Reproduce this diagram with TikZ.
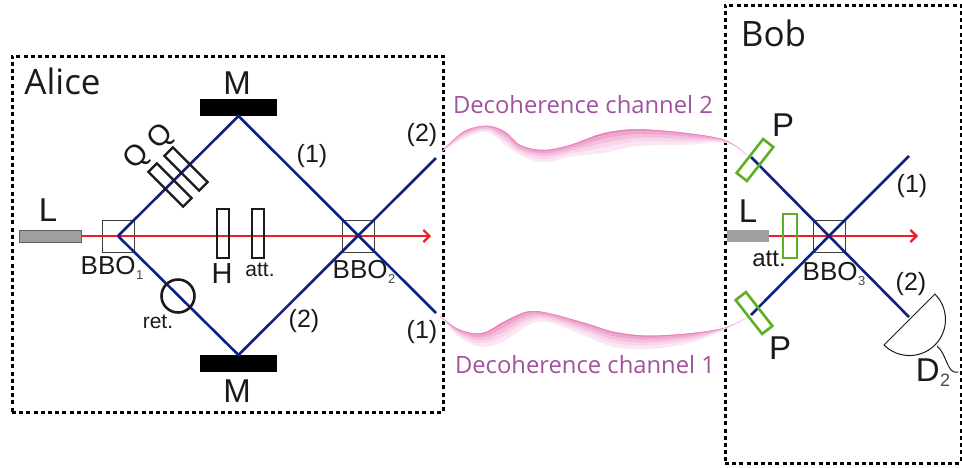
\documentclass[tikz,border=0pt]{standalone}
\usepackage{fontspec}
\setmainfont{Liberation Sans}
\newfontfamily\myr{Open Sans}
\usetikzlibrary{arrows.meta}
\definecolor{navy}{HTML}{10207F}
\definecolor{laser}{HTML}{EE1C25}
\definecolor{pgreen}{HTML}{5DB024}
\definecolor{chtext}{HTML}{A0529F}
\definecolor{ink}{HTML}{1A1A1A}
\definecolor{cha}{HTML}{FBE6F3}
\definecolor{chb}{HTML}{F8D5EA}
\definecolor{chc}{HTML}{F3BFDD}
\definecolor{chd}{HTML}{EEA6CF}
\definecolor{che}{HTML}{E67FB9}
\newcommand{\fs}[1]{\fontsize{#1}{#1}\selectfont}
\newcommand{\sbs}[1]{\kern.5pt\raisebox{-5pt}{\fs{13}\textcolor{ink!80}{#1}}}
% list of x/top/bottom, fraction, colour
\newcommand{\chband}[3]{%
  \gdef\tpts{}\gdef\bpts{}%
  \foreach \cx/\ct/\cb in #1{%
    \pgfmathsetmacro{\cy}{\ct+#2*(\cb-\ct)}%
    \xdef\tpts{\tpts (\cx,\ct)}%
    \xdef\bpts{(\cx,\cy) \bpts}%
  }%
  \edef\tmpcmd{\noexpand\fill[#3] plot[smooth,tension=.55] coordinates {\tpts} -- plot[smooth,tension=.55] coordinates {\bpts} -- cycle;}%
  \tmpcmd
}
\newcommand{\uplist}{441.7/151.7/151.7,463.3/131.7/139,486.7/125.7/131.7,505/131.7/145,520/145/155,543.3/150/162.5,570/145/156.7,603.3/133.3/153,636.7/129.3/146,683.3/132.7/145,725/140/142.7,746.7/155/155}
\newcommand{\lowlist}{440/316/316,456.7/328.3/335,473.3/333.3/345,486.7/331.7/346.7,503.3/322/341.7,526.7/311.7/326,546.7/312.7/321.7,586.7/323.5/336.7,613.3/331.7/347,646.7/335.7/349.3,690/333.3/343,725/327.7/329.3,746.7/317.7/317.7}
\newcommand{\channel}[1]{%
  \chband{#1}{1}{cha}
  \chband{#1}{.72}{chb}
  \chband{#1}{.5}{chc}
  \chband{#1}{.28}{chd}
  \chband{#1}{.07}{che}
}
\tikzset{
  every node/.style={inner sep=0pt,outer sep=0pt,text=ink},
  frame/.style={draw=black,line width=3pt,dash pattern=on 4pt off 3.2pt},
  beam/.style={draw=navy,line width=2.6pt},
  pump/.style={draw=laser,line width=2.6pt},
  pumparrow/.style={pump,-{Straight Barb[length=6pt,width=12pt,line width=2.2pt]}},
  crystal/.style={draw=ink!85,line width=1pt,minimum size=32pt},
  mirror/.style={fill=black,minimum width=77pt,minimum height=17pt},
  plate/.style={draw=ink,line width=2.3pt,minimum width=12pt,minimum height=49pt},
  gplate/.style={draw=pgreen,line width=2.6pt,minimum width=13pt,minimum height=43pt},
  txt/.style={font=\fs{21}},
  big/.style={font=\fs{33}},
  par/.style={font=\fs{25}},
  bbo/.style={font=\fs{26}},
  who/.style={font=\myr\fs{35}},
  chlabel/.style={font=\myr\fs{23.8},text=chtext},
}
\begin{document}
\begin{tikzpicture}[x=1pt,y=-1pt]
\useasboundingbox (0,0) rectangle (962,467);
% frames
\node[frame,minimum width=431pt,minimum height=356pt] (alice) at (227.5,234) {};
\node[frame,minimum width=236pt,minimum height=458pt] (bob) at (843,234) {};
% channels
\channel{\uplist}
\channel{\lowlist}
\node[chlabel] (ch2) at (583,105) {Decoherence channel 2};
\node[chlabel] (ch1) at (585,365) {Decoherence channel 1};
% Alice
\node[fill=gray!75,draw=ink!70,line width=1pt,minimum width=62pt,minimum height=12pt] (la) at (50,236) {};
\node[crystal] (bbo1) at (118,236) {};
\node[crystal] (bbo2) at (358,236) {};
\node[mirror] (mt) at (238.5,107.5) {};
\node[mirror] (mb) at (238.5,363.5) {};
\coordinate (ra) at (431,236);
\coordinate (e2) at (436,158);
\coordinate (e1) at (436,313);
\draw[pumparrow] (la.east) -- (ra);
\draw[beam,line join=miter] (bbo1.center) -- (mt.south) -- (e1);
\draw[beam,line join=miter] (bbo1.center) -- (mb.north) -- (e2);
\node[plate,rotate=45] (q1) at (170,185) {};
\node[plate,rotate=45] (q2) at (186,169) {};
\node[plate] (hw) at (223,233.5) {};
\node[plate] (at1) at (258,233.5) {};
\node[draw=ink,line width=2.6pt,circle,minimum size=33pt] (retc) at (178,296) {};
% Alice labels
\node[who] (alabel) at (62.5,81.5) {Alice};
\node[big] (lal) at (48,210) {L};
\node[big] (ml) at (237,83) {M};
\node[big] (mlb) at (237,391) {M};
\node[font=\fs{29}] (hl) at (222,274) {H};
\node[txt] (atl) at (260,270) {att.};
\node[txt] (retl) at (158,322) {ret.};
\node[font=\fs{29},rotate=45] (ql1) at (137,157) {Q};
\node[font=\fs{29},rotate=45] (ql2) at (161,137) {Q};
\node[bbo] (b1) at (112,268) {BBO\sbs{1}};
\node[bbo] (b2) at (364,272) {BBO\sbs{2}};
\node[par] (a1) at (312,156) {(1)};
\node[par] (a2) at (304,321) {(2)};
\node[par] (a3) at (422,135) {(2)};
\node[par] (a4) at (422,332) {(1)};
% Bob
\node[fill=gray!75,minimum width=42pt,minimum height=12pt] (lb) at (748,236) {};
\node[crystal] (bbo3) at (829,236) {};
\coordinate (rb) at (918,236);
\coordinate (p1c) at (751,157);
\coordinate (p2c) at (751,315);
\coordinate (f1) at (909,156);
\coordinate (f2) at (909,317);
\draw[pumparrow] (lb.east) -- (rb);
\draw[beam] (p1c) -- (bbo3.center) -- (f2);
\draw[beam] (p2c) -- (bbo3.center) -- (f1);
\node[gplate,rotate=-38] (pu) at (755,160) {};
\node[gplate,rotate=38] (pd) at (754,313) {};
\node[draw=pgreen,line width=2.6pt,minimum width=14pt,minimum height=44pt] (at2) at (790,236) {};
% detector
\coordinate (dA) at (884,345);
\coordinate (w0) at (937,346);
\coordinate (w1) at (958,372);
\draw[draw=ink,line width=1pt] (dA) arc[start angle=135,end angle=-45,radius=36] -- cycle;
\draw[ink,line width=1pt] (w0) .. controls (947,354) and (947,375) .. (w1);
% Bob labels
\node[who] (blabel) at (773.5,33) {Bob};
\node[big] (pl1) at (783,125) {P};
\node[big] (pl2) at (780,348) {P};
\node[big] (lbl) at (748,211) {L};
\node[font=\fs{24}] (atb) at (769,259) {att.};
\node[bbo] (b3) at (834,274) {BBO\sbs{3}};
\node[par] (c1) at (912,186) {(1)};
\node[par] (c2) at (911,284) {(2)};
\node[font=\fs{33}] (dl) at (933,373) {D\sbs{\fs{18}2}};
\end{tikzpicture}
\end{document}
